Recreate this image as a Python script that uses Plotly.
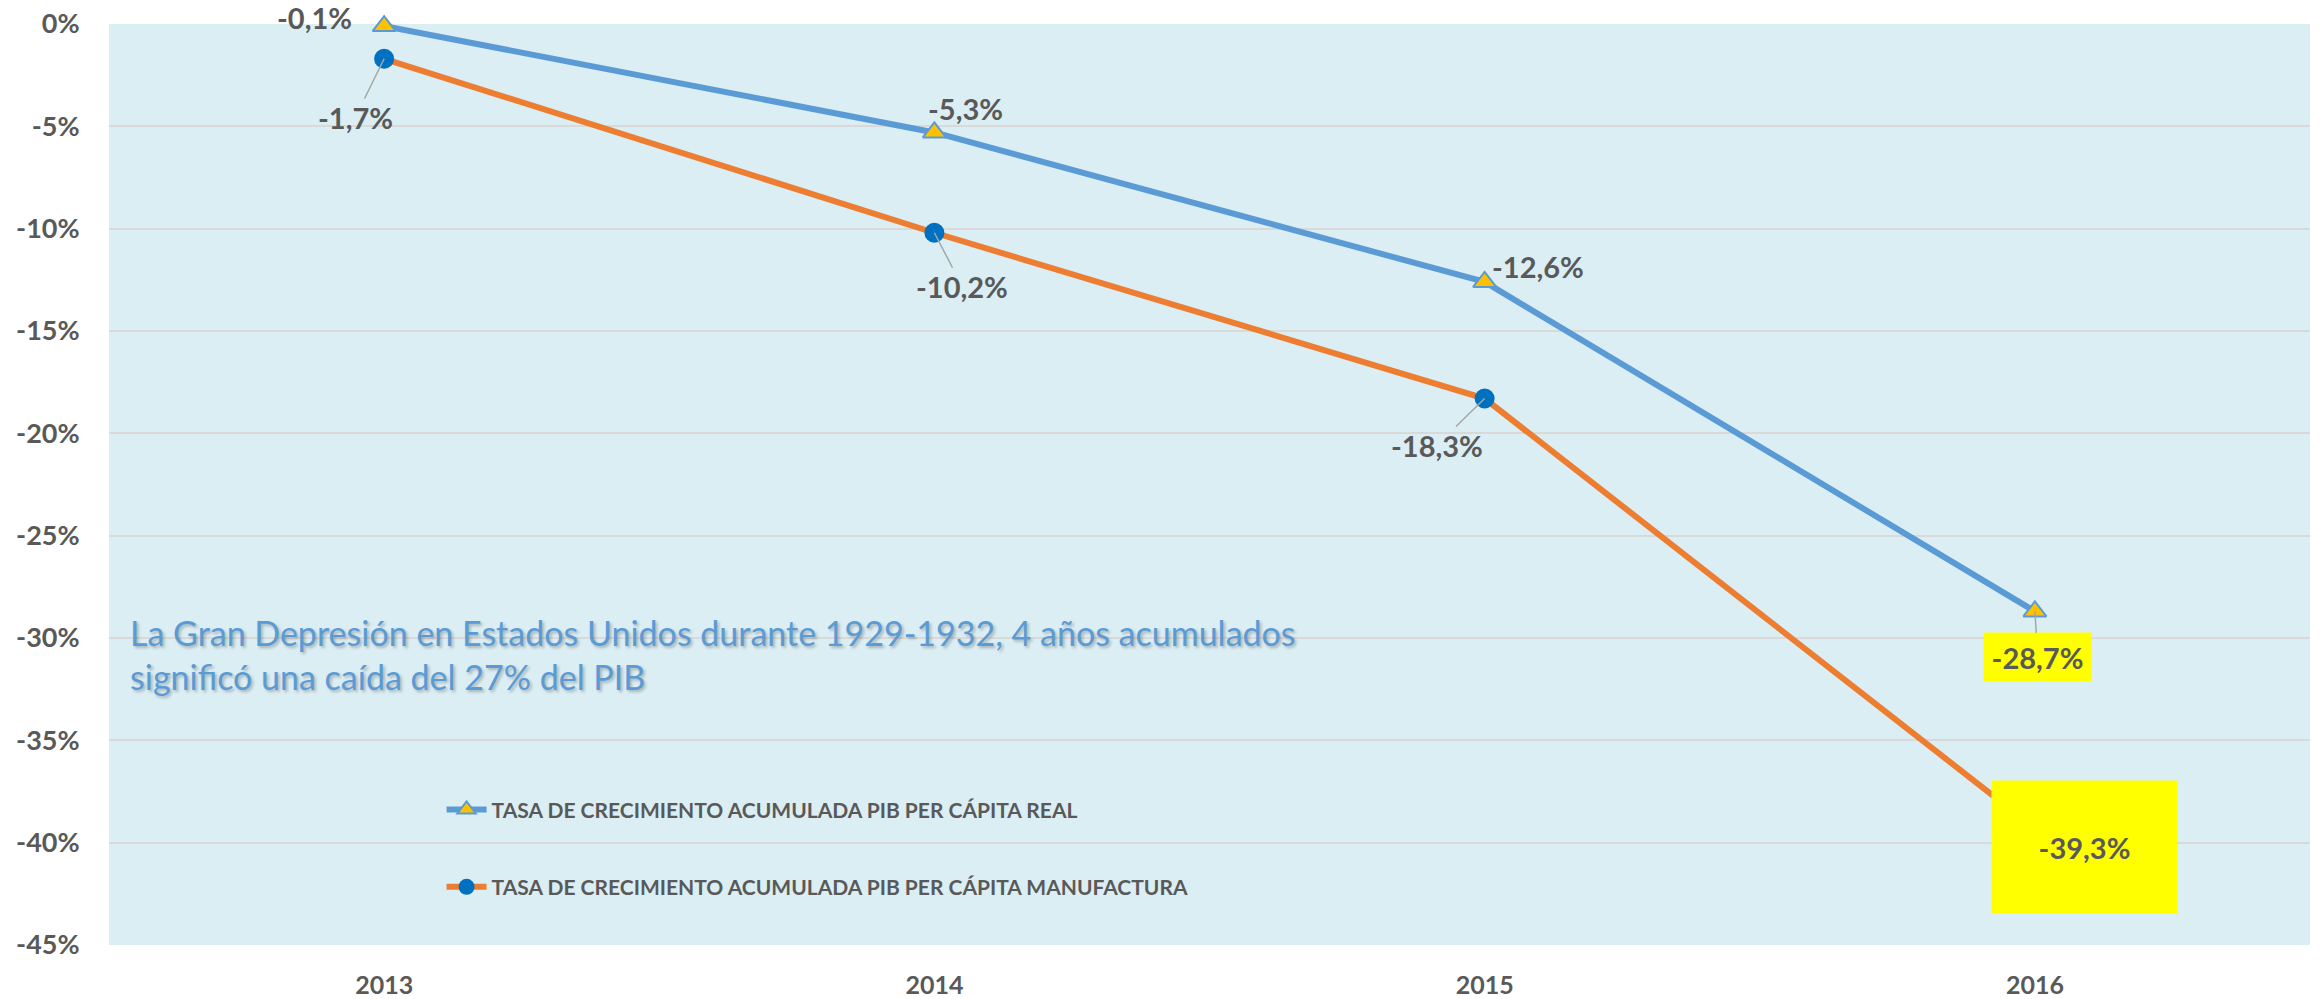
import plotly.graph_objects as go

# ---- data ----
years = ["2013", "2014", "2015", "2016"]
real_vals = [-0.1, -5.3, -12.6, -28.7]
manuf_vals = [-1.7, -10.2, -18.3, -39.3]
real_name = "TASA DE CRECIMIENTO ACUMULADA PIB PER CÁPITA REAL"
manuf_name = "TASA DE CRECIMIENTO ACUMULADA PIB PER CÁPITA MANUFACTURA"
y_tickvals = [0, -5, -10, -15, -20, -25, -30, -35, -40, -45]
y_ticktext = ["0%", "-5%", "-10%", "-15%", "-20%", "-25%", "-30%", "-35%", "-40%", "-45%"]
note_text = ("La Gran Depresión en Estados Unidos durante 1929-1932, 4 años acumulados<br>"
             "significó una caída del 27% del PIB")

# ---- styles ----
FONT = "Lato"
GREY = "#595959"
BLUE = "#5B9BD5"
ORANGE = "#ED7D31"
LABEL_SIZE = 29

def fmt(v):
    return ("%.1f%%" % v).replace(".", ",")

fig = go.Figure()
fig.add_trace(go.Scatter(
    x=years, y=real_vals, name=real_name, mode="lines+markers", legendgroup="a",
    line=dict(color=BLUE, width=6),
    marker=dict(symbol="triangle-up", size=20, color="#FFC000", line=dict(color=BLUE, width=2)),
    cliponaxis=False))
fig.add_trace(go.Scatter(
    x=years, y=manuf_vals, name=manuf_name, mode="lines+markers", legendgroup="b",
    line=dict(color=ORANGE, width=6),
    marker=dict(symbol="circle", size=20, color="#0070C0"),
    cliponaxis=False))

# label offsets (px): (dx, dy, leader, box)
real_off = [(-70, -9, False, None), (31, -24, False, None), (53, -15, False, None), (3, 46, True, (107, 48))]
manuf_off = [(-29, 59, True, None), (28, 54, True, None), (-48, 47, True, None), (50, 19, False, (185, 132))]

annotations = []
for vals, offs in ((real_vals, real_off), (manuf_vals, manuf_off)):
    for i, (yv, (dx, dy, leader, box)) in enumerate(zip(vals, offs)):
        a = dict(x=i, y=yv, xref="x", yref="y", text=fmt(yv),
                 font=dict(family=FONT, size=LABEL_SIZE, color=GREY, weight="bold"))
        if leader:
            a.update(showarrow=True, ax=dx, ay=dy, arrowhead=0, arrowwidth=1.5,
                     arrowcolor="#A6A6A6", standoff=0)
        else:
            a.update(showarrow=False, xshift=dx, yshift=-dy, xanchor="center", yanchor="middle")
        if box:
            a.update(bgcolor="#FFFF00", width=box[0], height=box[1], borderpad=0)
        annotations.append(a)

annotations.append(dict(
    x=0.0086, y=-30.8, xref="paper", yref="y", xanchor="left", yanchor="middle",
    text=note_text, showarrow=False, align="left",
    font=dict(family=FONT, size=34, color=BLUE, shadow="2px 2px 3px rgba(0,0,0,0.25)")))

fig.update_layout(
    width=2320, height=999,
    margin=dict(l=109, r=10, t=24, b=54),
    paper_bgcolor="white", plot_bgcolor="#DBEEF4",
    annotations=annotations,
    showlegend=True,
    legend=dict(x=0.1511, y=0.169, xanchor="left", yanchor="top", bgcolor="rgba(0,0,0,0)",
                font=dict(family=FONT, size=21, color=GREY, weight="bold"),
                tracegroupgap=47, itemwidth=40),
    xaxis=dict(type="category", range=[-0.5, 3.5], showgrid=False, zeroline=False,
               showline=False, ticks="outside", ticklen=18, tickcolor="rgba(0,0,0,0)",
               automargin=False,
               tickfont=dict(family=FONT, size=25, color=GREY, weight="bold")),
    yaxis=dict(range=[-45, 0], tickvals=y_tickvals, ticktext=y_ticktext,
               showgrid=True, gridcolor="#D9D9D9", gridwidth=2, zeroline=False, showline=False,
               ticks="outside", ticklen=23, tickcolor="rgba(0,0,0,0)", automargin=False,
               tickfont=dict(family=FONT, size=27, color=GREY, weight="bold")),
)

fig.write_html("out.html", config={"displayModeBar": False},
               post_script="document.body.style.margin='0';")
